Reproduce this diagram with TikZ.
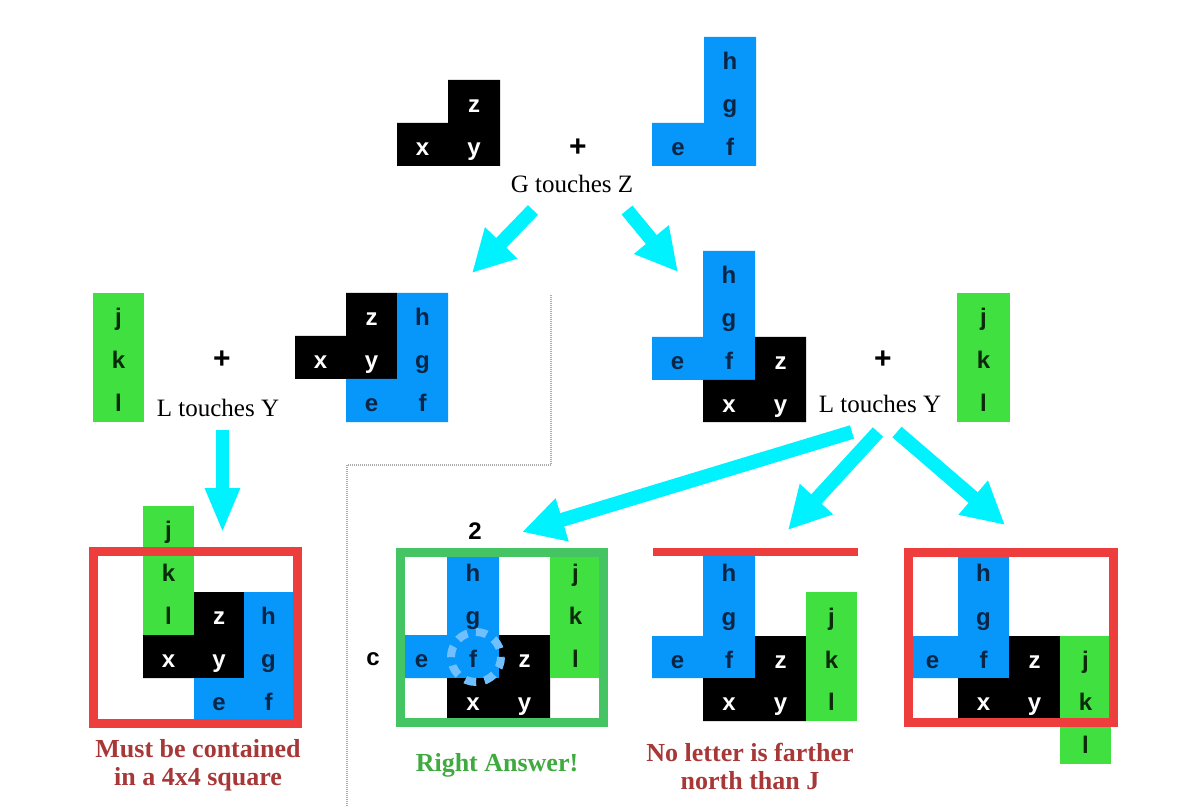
\documentclass[tikz,border=0pt]{standalone}
\usepackage{fontspec}
\setmainfont{Liberation Serif}
\newfontfamily\lsans{Liberation Sans}
\usetikzlibrary{arrows.meta}
\definecolor{pblue}{HTML}{0796FA}
\definecolor{pgreen}{HTML}{40E040}
\definecolor{navy}{HTML}{0B2545}
\definecolor{dgreen}{HTML}{0A2A0A}
\definecolor{bred}{HTML}{EE3D3D}
\definecolor{bgreen}{HTML}{45C463}
\definecolor{capred}{HTML}{A83838}
\definecolor{capgreen}{HTML}{3FAA3F}
\definecolor{arrowc}{HTML}{00F2FF}
\definecolor{ringc}{HTML}{70C0FF}
\definecolor{divc}{HTML}{ABABAB}
\tikzset{
 lt/.style={font=\lsans\bfseries\fontsize{24}{24}\selectfont, inner sep=0pt, anchor=base, yshift=-11pt},
 onblack/.style={lt, text=white},
 onblue/.style={lt, text=navy},
 ongreen/.style={lt, text=dgreen},
 lbl/.style={font=\fontsize{25}{28}\selectfont, inner sep=0pt, anchor=base},
 captxt/.style={font=\bfseries\fontsize{26}{28}\selectfont, align=center, inner sep=0pt},
 plustxt/.style={font=\lsans\bfseries\fontsize{30}{30}\selectfont, inner sep=0pt},
 marktxt/.style={font=\lsans\bfseries\fontsize{24}{24}\selectfont, inner sep=0pt},
 bigarrow/.style={arrowc, line width=14pt, -{Triangle[width=42pt,length=42pt]}},
 downarrow/.style={arrowc, line width=13pt, -{Triangle[width=32pt,length=45pt]}},
 border/.style={line width=9pt},
 divider/.style={divc, line width=2.5pt, dash pattern=on 1pt off 1pt},
}
\begin{document}
\begin{tikzpicture}[x=1pt,y=-1pt]
\useasboundingbox (0,0) rectangle (1200,810);
\fill[white] (0,0) rectangle (1200,810);

% dividers
\draw[divider] (551,295) -- (551,465) -- (347,465) -- (347,807);

% ---------- top ----------
\fill[black] (397,123)--(448,123)--(448,80)--(500,80)--(500,166)--(397,166)--cycle;
\node[onblack] (t-x) at (422.5,144.5) {x};
\node[onblack] (t-y) at (474,144.5) {y};
\node[onblack] (t-z) at (474,101.5) {z};
\fill[pblue] (652,123)--(704,123)--(704,37)--(756,37)--(756,166)--(652,166)--cycle;
\node[onblue] (t-h) at (730,58.5) {h};
\node[onblue] (t-g) at (730,101.5) {g};
\node[onblue] (t-f) at (730,144.5) {f};
\node[onblue] (t-e) at (678,144.5) {e};
\node[plustxt] (t-plus) at (578,148) {+};
\node[lbl] (t-lbl) at (572,193) {G touches Z};

% ---------- row 2 left ----------
\fill[pgreen] (93,293) rectangle (144,422);
\node[ongreen] (l-j) at (118.5,314.5) {j};
\node[ongreen] (l-k) at (118.5,357.5) {k};
\node[ongreen] (l-l) at (118.5,400.5) {l};
\node[plustxt] (l-plus) at (222,360) {+};
\node[lbl] (l-lbl) at (218,416) {L touches Y};
\fill[black] (295,336)--(346,336)--(346,293)--(397,293)--(397,379)--(295,379)--cycle;
\node[onblack] (l-z) at (371.5,314.5) {z};
\node[onblack] (l-x) at (320.5,357.5) {x};
\node[onblack] (l-y) at (371.5,357.5) {y};
\fill[pblue] (346,379)--(397,379)--(397,293)--(448,293)--(448,422)--(346,422)--cycle;
\node[onblue] (l-h) at (422.5,314.5) {h};
\node[onblue] (l-g) at (422.5,357.5) {g};
\node[onblue] (l-f) at (422.5,400.5) {f};
\node[onblue] (l-e) at (371.5,400.5) {e};

% ---------- row 2 right ----------
\fill[pblue] (652,337)--(703,337)--(703,251)--(755,251)--(755,380)--(652,380)--cycle;
\node[onblue] (r-h) at (729,272.5) {h};
\node[onblue] (r-g) at (729,315.5) {g};
\node[onblue] (r-f) at (729,358.5) {f};
\node[onblue] (r-e) at (677.5,358.5) {e};
\fill[black] (755,337)--(806,337)--(806,422)--(703,422)--(703,380)--(755,380)--cycle;
\node[onblack] (r-z) at (780.5,358.5) {z};
\node[onblack] (r-x) at (729,401) {x};
\node[onblack] (r-y) at (780.5,401) {y};
\node[plustxt] (r-plus) at (883,360) {+};
\node[lbl] (r-lbl) at (880,413) {L touches Y};
\fill[pgreen] (957,293) rectangle (1010,422);
\node[ongreen] (r-j) at (983.5,314.5) {j};
\node[ongreen] (r-k) at (983.5,357.5) {k};
\node[ongreen] (r-l) at (983.5,400.5) {l};

% ---------- bottom left ----------
\fill[pgreen] (143,506) rectangle (194,635);
\node[ongreen] (a-j) at (168.5,527.5) {j};
\node[ongreen] (a-k) at (168.5,570.5) {k};
\node[ongreen] (a-l) at (168.5,613.5) {l};
\fill[black] (143,635)--(194,635)--(194,592)--(244,592)--(244,678)--(143,678)--cycle;
\node[onblack] (a-z) at (219,613.5) {z};
\node[onblack] (a-x) at (168.5,656.5) {x};
\node[onblack] (a-y) at (219,656.5) {y};
\fill[pblue] (194,678)--(244,678)--(244,592)--(293,592)--(293,721)--(194,721)--cycle;
\node[onblue] (a-h) at (268.5,613.5) {h};
\node[onblue] (a-g) at (268.5,656.5) {g};
\node[onblue] (a-f) at (268.5,699.5) {f};
\node[onblue] (a-e) at (219,699.5) {e};
\draw[border, bred] (93.5,551.5) rectangle (297.5,723);
\node[captxt, text=capred] (a-cap) at (198,765) {Must be contained\\in a 4x4 square};

% ---------- bottom middle (right answer) ----------
\fill[pblue] (396,635)--(447,635)--(447,549)--(499,549)--(499,678)--(396,678)--cycle;
\fill[black] (499,635)--(550,635)--(550,721)--(447,721)--(447,678)--(499,678)--cycle;
\fill[pgreen] (550,549) rectangle (601,678);
\draw[ringc, line width=8pt, dash pattern=on 11pt off 8.6pt] (476,657) circle[radius=25];
\node[onblue] (b-h) at (473,570.5) {h};
\node[onblue] (b-g) at (473,613.5) {g};
\node[onblue] (b-f) at (473,656.5) {f};
\node[onblue] (b-e) at (421.5,656.5) {e};
\node[onblack] (b-z) at (524.5,656.5) {z};
\node[onblack] (b-x) at (473,699.5) {x};
\node[onblack] (b-y) at (524.5,699.5) {y};
\node[ongreen] (b-j) at (575.5,570.5) {j};
\node[ongreen] (b-k) at (575.5,613.5) {k};
\node[ongreen] (b-l) at (575.5,656.5) {l};
\draw[border, bgreen] (400,552) rectangle (603.5,722.5);
\node[marktxt] (b-two) at (475,531) {2};
\node[marktxt] (b-c) at (373,659) {c};
\node[captxt, text=capgreen] (b-cap) at (497,765) {Right Answer!};

% ---------- bottom (no letter farther north) ----------
\fill[pblue] (652,636)--(703,636)--(703,549)--(755,549)--(755,678)--(652,678)--cycle;
\node[onblue] (c-h) at (729,570.5) {h};
\node[onblue] (c-g) at (729,614) {g};
\node[onblue] (c-f) at (729,657) {f};
\node[onblue] (c-e) at (677.5,657) {e};
\fill[black] (755,636)--(806,636)--(806,721)--(703,721)--(703,678)--(755,678)--cycle;
\node[onblack] (c-z) at (780.5,657) {z};
\node[onblack] (c-x) at (729,699.5) {x};
\node[onblack] (c-y) at (780.5,699.5) {y};
\fill[pgreen] (806,592) rectangle (857,721);
\node[ongreen] (c-j) at (831.5,614) {j};
\node[ongreen] (c-k) at (831.5,657) {k};
\node[ongreen] (c-l) at (831.5,699.5) {l};
\coordinate (c-line-a) at (653,552);
\coordinate (c-line-b) at (858,552);
\draw[bred, line width=8pt] (c-line-a) -- (c-line-b);
\node[captxt, text=capred] (c-cap) at (750,766) {No letter is farther\\north than J};

% ---------- bottom right ----------
\fill[pblue] (907,636)--(958,636)--(958,549)--(1009,549)--(1009,678)--(907,678)--cycle;
\node[onblue] (d-h) at (983.5,570.5) {h};
\node[onblue] (d-g) at (983.5,614) {g};
\node[onblue] (d-f) at (983.5,657) {f};
\node[onblue] (d-e) at (932.5,657) {e};
\fill[black] (1009,636)--(1060,636)--(1060,721)--(958,721)--(958,678)--(1009,678)--cycle;
\node[onblack] (d-z) at (1034.5,657) {z};
\node[onblack] (d-x) at (983.5,699.5) {x};
\node[onblack] (d-y) at (1034.5,699.5) {y};
\fill[pgreen] (1060,636) rectangle (1111,764);
\node[ongreen] (d-j) at (1085.5,657) {j};
\node[ongreen] (d-k) at (1085.5,699.5) {k};
\node[ongreen] (d-l) at (1085.5,742.5) {l};
\draw[border, bred] (908.5,552) rectangle (1113,722);

% ---------- arrows ----------
\coordinate (a1s) at (533,210); \coordinate (a1e) at (472,273);
\coordinate (a2s) at (627,210); \coordinate (a2e) at (678,272);
\coordinate (a3s) at (222.5,430); \coordinate (a3e) at (222.5,533);
\coordinate (a4s) at (852,432); \coordinate (a4e) at (522,532);
\coordinate (a5s) at (878,432); \coordinate (a5e) at (788,530);
\coordinate (a6s) at (897,432); \coordinate (a6e) at (1005,525);
\draw[bigarrow] (a1s) -- (a1e);
\draw[bigarrow] (a2s) -- (a2e);
\draw[downarrow] (a3s) -- (a3e);
\draw[bigarrow] (a4s) -- (a4e);
\draw[bigarrow] (a5s) -- (a5e);
\draw[bigarrow] (a6s) -- (a6e);
\end{tikzpicture}
\end{document}
